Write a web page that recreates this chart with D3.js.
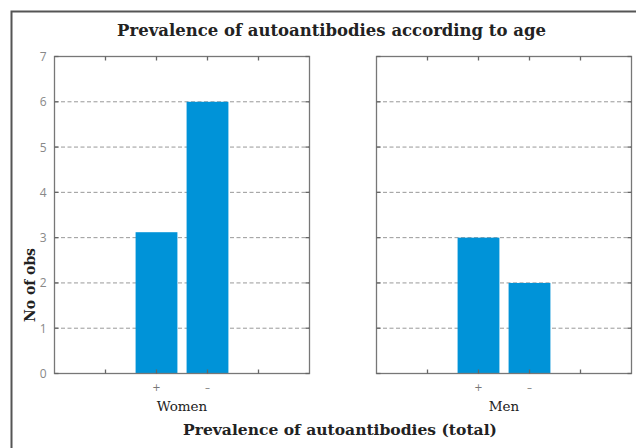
<!DOCTYPE html>
<html><head><meta charset="utf-8">
<script src="https://cdn.jsdelivr.net/npm/d3@7"></script>
<style>body{margin:0;background:#fff}svg{display:block}</style>
</head><body>
<svg id="c" width="636" height="448"></svg>
<script>
const panels = ["Women", "Men"];
const groups = ["+", "–"];
const womenValues = [3.12, 6];
const menValues = [3, 2];
const yTicks = [0, 1, 2, 3, 4, 5, 6, 7];
const title = "Prevalence of autoantibodies according to age";
const xTitle = "Prevalence of autoantibodies (total)";
const yTitle = "No of obs";

const svg = d3.select("#c");
svg.append("rect").attr("x", 11.5).attr("y", 11.5).attr("width", 700).attr("height", 500)
  .attr("fill", "none").attr("stroke", "#555").attr("stroke-width", 2);

function fit(sel, target) {
  const w = sel.node().getComputedTextLength();
  const fs = +sel.attr("font-size");
  sel.attr("font-size", fs * target / w);
}

const t1 = svg.append("text").attr("x", 331.5).attr("y", 36).attr("text-anchor", "middle")
  .attr("font-family", "DejaVu Serif").attr("font-weight", "bold").attr("font-size", 16)
  .attr("fill", "#222").text(title);
fit(t1, 429);

const y = d3.scaleLinear().domain([0, 7]).range([373.5, 56.5]);
const panelX = [54.5, 376.5];
const pw = 255;
const data = [womenValues, menValues];

panels.forEach((p, i) => {
  const x0 = panelX[i];
  const x = d3.scaleLinear().domain([0, 5]).range([x0, x0 + pw]);
  const g = svg.append("g");
  g.selectAll(".grid").data(yTicks.filter(t => t > 0 && t < 7)).join("line")
    .attr("x1", x0).attr("x2", x0 + pw).attr("y1", d => y(d)).attr("y2", d => y(d))
    .attr("stroke", "#999").attr("stroke-dasharray", "4,2.5").attr("stroke-width", 1);
  g.selectAll(".bar").data(data[i]).join("rect")
    .attr("x", (d, j) => x(j + 2) - 0.41 * (pw / 5))
    .attr("width", 0.82 * (pw / 5))
    .attr("y", d => y(d)).attr("height", d => y(0) - y(d))
    .attr("fill", "#0093D8");
  g.append("rect").attr("x", x0).attr("y", y(7)).attr("width", pw).attr("height", y(0) - y(7))
    .attr("fill", "none").attr("stroke", "#777").attr("stroke-width", 1.3);
  const xt = [1, 2, 3, 4];
  xt.forEach(t => {
    g.append("line").attr("x1", x(t)).attr("x2", x(t)).attr("y1", y(0)).attr("y2", y(0) - 4).attr("stroke", "#666").attr("stroke-width", 1.3);
    g.append("line").attr("x1", x(t)).attr("x2", x(t)).attr("y1", y(7)).attr("y2", y(7) + 4).attr("stroke", "#666").attr("stroke-width", 1.3);
  });
  yTicks.forEach(t => {
    g.append("line").attr("x1", x0).attr("x2", x0 + 4).attr("y1", y(t)).attr("y2", y(t)).attr("stroke", "#666").attr("stroke-width", 1.3);
    g.append("line").attr("x1", x0 + pw).attr("x2", x0 + pw - 4).attr("y1", y(t)).attr("y2", y(t)).attr("stroke", "#666").attr("stroke-width", 1.3);
  });
  groups.forEach((gl, j) => {
    g.append("text").attr("x", x(j + 2)).attr("y", 391).attr("text-anchor", "middle")
      .attr("font-family", "DejaVu Sans").attr("font-size", 10).attr("fill", "#777").text(gl);
  });
  g.append("text").attr("x", (x(2) + x(3)) / 2).attr("y", 411).attr("text-anchor", "middle")
    .attr("font-family", "DejaVu Serif").attr("font-size", 13.5).attr("fill", "#222").text(p);
  if (i === 0) {
    g.selectAll(".yl").data(yTicks).join("text")
      .attr("x", x0 - 8).attr("y", d => y(d) + 4.5).attr("text-anchor", "end")
      .attr("font-family", "Open Sans").attr("font-size", 12).attr("fill", "#888").text(d => d);
  }
});

const t2 = svg.append("text").attr("x", 340).attr("y", 435).attr("text-anchor", "middle")
  .attr("font-family", "DejaVu Serif").attr("font-weight", "bold").attr("font-size", 16)
  .attr("fill", "#222").text(xTitle);
fit(t2, 314);

const t3 = svg.append("text").attr("transform", "translate(35,285) rotate(-90)").attr("text-anchor", "middle")
  .attr("font-family", "DejaVu Serif").attr("font-weight", "bold").attr("font-size", 14)
  .attr("fill", "#222").text(yTitle);
fit(t3, 74);
</script>
</body></html>
